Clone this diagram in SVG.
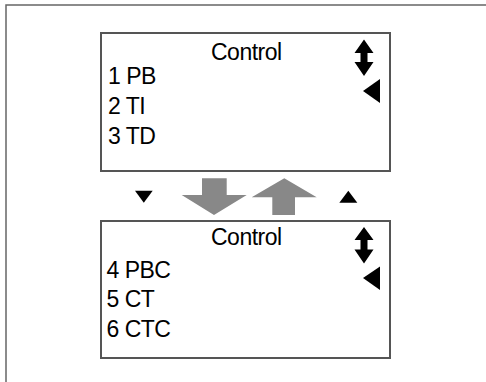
<svg xmlns="http://www.w3.org/2000/svg" width="486" height="382" viewBox="0 0 486 382">
<style>
.frame{fill:none;stroke:#666;stroke-width:1.5}
.box{fill:#fff;stroke:#555;stroke-width:2}
.t{font-family:"Liberation Sans",Arial,sans-serif;font-size:23px;fill:#000;letter-spacing:-0.5px}
.ic{fill:#000}
.g{fill:#888}
</style>
<rect class="frame" x="6" y="5" width="500" height="400"/>
<g id="screen1">
<rect class="box" x="101" y="33" width="289" height="138"/>
<text class="t" x="211" y="59.5">Control</text>
<text class="t" x="108" y="83.5">1 PB</text>
<text class="t" x="108" y="113.5">2 TI</text>
<text class="t" x="108" y="143.5">3 TD</text>
<polygon class="ic" points="364,39.5 373.5,53 367.5,53 367.5,62 373.5,62 364,76 354.5,62 360.5,62 360.5,53 354.5,53"/>
<polygon class="ic" points="363,91 380,79 380,103"/>
</g>
<g id="screen2">
<rect class="box" x="101" y="221" width="289" height="137"/>
<text class="t" x="211" y="245">Control</text>
<text class="t" x="106.5" y="277.5">4 PBC</text>
<text class="t" x="106.5" y="307">5 CT</text>
<text class="t" x="106.5" y="336.5">6 CTC</text>
<polygon class="ic" points="364,227 373.5,240 367.5,240 367.5,249.5 373.5,249.5 364,263.5 354.5,249.5 360.5,249.5 360.5,240 354.5,240"/>
<polygon class="ic" points="363,278 380,266.5 380,290"/>
</g>
<g id="connectors">
<polygon class="ic" points="135,190.7 152.7,190.7 143.8,202.7"/>
<polygon class="g" points="202,178.3 226.7,178.3 226.7,195 246.7,195 214,215 181.7,195 202,195"/>
<polygon class="g" points="284.3,178.3 316.7,197.3 295,197.3 295,215 272.3,215 272.3,197.3 251.7,197.3"/>
<polygon class="ic" points="339.3,202.7 357.3,202.7 348.3,190.7"/>
</g>
</svg>
